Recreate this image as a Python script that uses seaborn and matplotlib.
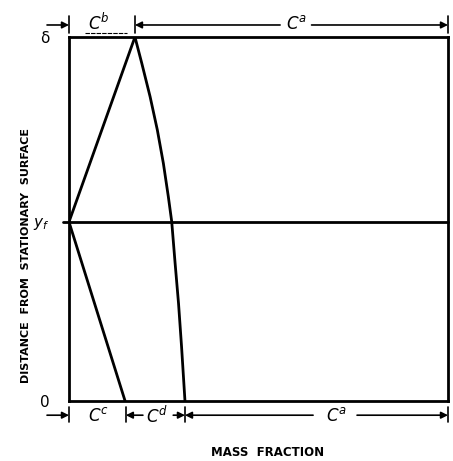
import matplotlib
matplotlib.use("Agg")
import matplotlib.pyplot as plt
import numpy as np
import pandas as pd
import seaborn as sns

# profile values (x = mass fraction, y = distance / delta)
y_f = 0.492
curve_x = [0.174, 0.192, 0.214, 0.233, 0.249, 0.262, 0.271, 0.280, 0.289, 0.297, 0.306]
curve_y = [1.0, 0.928, 0.836, 0.745, 0.653, 0.562, 0.493, 0.378, 0.268, 0.149, 0.0]
upper_x = [0.0, 0.174]
upper_y = [y_f, 1.0]
lower_x = [0.0, 0.148]
lower_y = [y_f, 0.0]

ytick_vals = [0.0, y_f, 1.0]
ytick_labels = ["0", "$y_f$", "δ"]

# dimension marks along top and bottom
top_ticks = [0.0, 0.174, 1.0]
bottom_ticks = [0.0, 0.150, 0.306, 1.0]

sns.set_style("white")
plt.rcParams['font.family'] = ['DejaVu Sans']
plt.rcParams['mathtext.fontset'] = 'dejavusans'
plt.rcParams['text.color'] = 'black'
plt.rcParams['axes.labelcolor'] = 'black'
plt.rcParams['ytick.color'] = 'black'

fig = plt.figure(figsize=(4.53, 4.61), dpi=100)
ax = fig.add_axes([69/453, 60/461, 379/453, 364/461])

df_curve = pd.DataFrame({"x": curve_x, "y": curve_y})
sns.lineplot(data=df_curve, x="x", y="y", sort=False, color="black", lw=2, ax=ax)
sns.lineplot(x=upper_x, y=upper_y, sort=False, color="black", lw=2, ax=ax)
sns.lineplot(x=lower_x, y=lower_y, sort=False, color="black", lw=2, ax=ax)
ax.plot([-0.016, 1.0], [y_f, y_f], color="black", lw=2, clip_on=False)

ax.set_xlim(0, 1)
ax.set_ylim(0, 1)
for s in ax.spines.values():
    s.set_color("black")
    s.set_linewidth(2)

ax.set_xticks([])
ax.set_yticks(ytick_vals)
ax.set_yticklabels(ytick_labels, fontsize=11)
ax.tick_params(axis="y", length=0, pad=14)
ax.set_xlabel("")
ax.set_ylabel("DISTANCE  FROM  STATIONARY  SURFACE", fontsize=8, fontweight="bold")
ax.yaxis.set_label_coords(-0.10, 0.40)
fig.text(268/453, 1 - 452/461, "MASS  FRACTION", fontsize=8.5, fontweight="bold",
         ha="center", va="center")

arrow = dict(arrowstyle="-|>", color="black", lw=1.2, mutation_scale=10, shrinkA=0, shrinkB=0)


def dim_arrow(x0, x1, y):
    ax.annotate("", xy=(x1, y), xytext=(x0, y), xycoords="data", arrowprops=arrow, annotation_clip=False)


# top row
yt = 1.033
for t in top_ticks:
    ax.plot([t, t], [1.011, 1.058], color="black", lw=1.2, clip_on=False)
dim_arrow(-0.058, 0.0, yt)
ax.text(0.08, yt + 0.004, "$C^b$", fontsize=12, ha="center", va="center")
ax.plot([0.042, 0.153], [1.011, 1.011], color="black", lw=0.8, ls=(0, (4, 1)), clip_on=False)
dim_arrow(0.557, 0.174, yt)
ax.text(0.600, yt + 0.004, "$C^a$", fontsize=12, ha="center", va="center")
dim_arrow(0.640, 1.0, yt)

# bottom row
yb = -0.039
for t in bottom_ticks:
    ax.plot([t, t], [-0.017, -0.058], color="black", lw=1.2, clip_on=False)
dim_arrow(-0.058, 0.0, yb)
ax.text(0.077, yb - 0.002, "$C^c$", fontsize=12, ha="center", va="center")
dim_arrow(0.195, 0.150, yb)
ax.text(0.232, yb - 0.002, "$C^d$", fontsize=12, ha="center", va="center")
dim_arrow(0.275, 0.306, yb)
dim_arrow(0.644, 0.306, yb)
ax.text(0.705, yb - 0.002, "$C^a$", fontsize=12, ha="center", va="center")
dim_arrow(0.760, 1.0, yb)

plt.savefig("out.png", dpi=100)
